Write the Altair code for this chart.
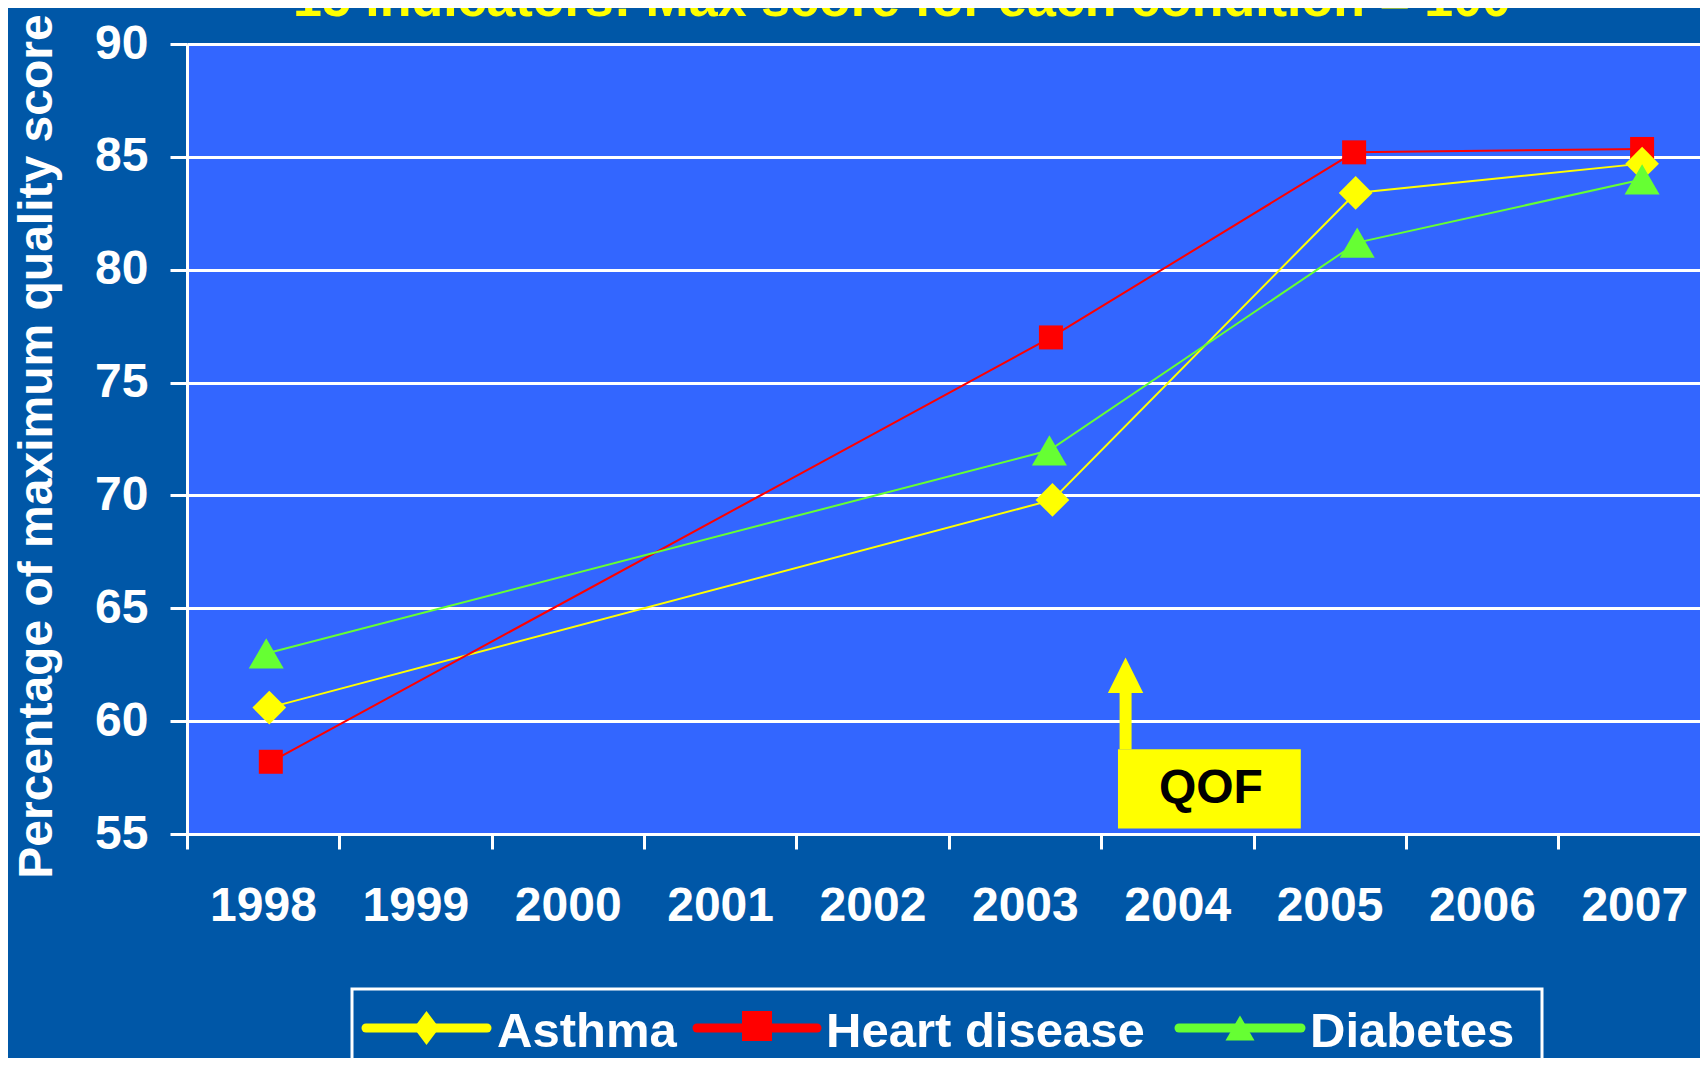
import altair as alt
import pandas as pd

# ---------------- data ----------------
series = ["Asthma", "Heart disease", "Diabetes"]
colors = ["#FFFF00", "#FF0000", "#66FF33"]

asthma_x = [1998.54, 2003.68, 2005.67, 2007.55]
asthma_y = [60.6, 69.8, 83.4, 84.7]
heart_x = [1998.55, 2003.67, 2005.66, 2007.55]
heart_y = [58.2, 77.0, 85.2, 85.35]
diabetes_x = [1998.52, 2003.66, 2005.68, 2007.55]
diabetes_y = [63.0, 72.0, 81.2, 84.0]

year_ticks = list(range(1998, 2008))
y_ticks = [55, 60, 65, 70, 75, 80, 85, 90]

title_text = "15 indicators: Max score for each condition = 100"
y_title = "Percentage of maximum quality score"
qof_label = "QOF"

# annotation (data units)
qof_box = {"x0": 2004.11, "x1": 2005.31, "y0": 55.24, "y1": 58.75}
qof_arrow = {"x": 2004.16, "shaft_top": 61.3, "head_c": 62.03}
qof_text_pos = {"x": 2004.72, "y": 57.0}

# ---------------- layout ----------------
W, H = 1513, 790
FONT = "Liberation Sans"
BG = "#0057A7"
PLOT_BG = "#3366FF"

df = pd.DataFrame({
    "series": ["Asthma"] * 4 + ["Heart disease"] * 4 + ["Diabetes"] * 4,
    "x": asthma_x + heart_x + diabetes_x,
    "y": asthma_y + heart_y + diabetes_y,
})

xscale = alt.Scale(domain=[1998, 2007.93], nice=False, zero=False)
yscale = alt.Scale(domain=[55, 90], nice=False, zero=False)
cscale = alt.Scale(domain=series, range=colors)

xaxis = alt.Axis(values=year_ticks, format="d", title=None, grid=False,
                 labelFont=FONT, labelFontSize=48, labelFontWeight="bold",
                 labelColor="white", labelOffset=76, labelPadding=33,
                 labelFlush=False, labelOverlap=False, labelBound=False,
                 tickColor="white", tickWidth=3, tickSize=15,
                 domainColor="white", domainWidth=3)
yaxis = alt.Axis(values=y_ticks, title=y_title, grid=True,
                 gridColor="white", gridWidth=3,
                 labelFont=FONT, labelFontSize=48, labelFontWeight="bold",
                 labelColor="white", labelPadding=22,
                 tickColor="white", tickWidth=3, tickSize=17,
                 domainColor="white", domainWidth=3,
                 titleFont=FONT, titleFontSize=48, titleFontWeight="bold",
                 titleColor="white", titleX=-136, titleY=402, titleAngle=270,
                 titleAlign="center", titleBaseline="alphabetic")

X = alt.X("x:Q", scale=xscale, axis=xaxis)
Y = alt.Y("y:Q", scale=yscale, axis=yaxis)

lines = alt.Chart(df).mark_line(strokeWidth=2).encode(
    x=X, y=Y,
    color=alt.Color("series:N", scale=cscale, legend=None),
    detail="series:N",
)

marker_shape = {"Asthma": "diamond", "Heart disease": "square", "Diabetes": "triangle-up"}
marker_size = {"Asthma": 1136, "Heart disease": 576, "Diabetes": 1225}
point_layers = []
for s in ["Heart disease", "Asthma", "Diabetes"]:
    point_layers.append(
        alt.Chart(df).transform_filter(alt.datum.series == s).mark_point(
            filled=True, opacity=1, shape=marker_shape[s], size=marker_size[s],
            color=colors[series.index(s)], strokeWidth=0
        ).encode(
            x=alt.X("x:Q", scale=xscale, axis=xaxis),
            y=alt.Y("y:Q", scale=yscale, axis=yaxis),
        )
    )

# QOF annotation
qdf = pd.DataFrame({
    "x0": [qof_box["x0"]], "x1": [qof_box["x1"]],
    "y0": [qof_box["y0"]], "y1": [qof_box["y1"]],
    "ax": [qof_arrow["x"]], "ay0": [qof_box["y1"]], "ay1": [qof_arrow["shaft_top"]],
    "hy": [qof_arrow["head_c"]],
    "tx": [qof_text_pos["x"]], "ty": [qof_text_pos["y"]], "label": [qof_label],
})
qbox = alt.Chart(qdf).mark_rect(color="#FFFF00").encode(
    x=alt.X("x0:Q", scale=xscale), x2="x1:Q",
    y=alt.Y("y0:Q", scale=yscale), y2="y1:Q")
qshaft = alt.Chart(qdf).mark_rule(color="#FFFF00", strokeWidth=12).encode(
    x=alt.X("ax:Q", scale=xscale),
    y=alt.Y("ay0:Q", scale=yscale), y2="ay1:Q")
qhead = alt.Chart(qdf).mark_point(
    filled=True, opacity=1, color="#FFFF00", strokeWidth=0,
    shape="M0,-1L1,1L-1,1Z", size=1253).encode(
    x=alt.X("ax:Q", scale=xscale), y=alt.Y("hy:Q", scale=yscale))
qtext = alt.Chart(qdf).mark_text(
    font=FONT, fontSize=48, fontWeight="bold", color="black",
    align="center", baseline="middle").encode(
    x=alt.X("tx:Q", scale=xscale), y=alt.Y("ty:Q", scale=yscale), text="label:N")

# title (cut off at the top, as in the reference)
tdf = pd.DataFrame({"t": [title_text]})
title = alt.Chart(tdf).mark_text(
    font=FONT, fontSize=52, fontWeight="bold", color="#FFFF00",
    align="center", baseline="alphabetic").encode(
    x=alt.value(715), y=alt.value(-28), text="t:N")

# manual legend
leg_line_x0 = [179, 510, 992]
leg_line_x1 = [300, 630, 1114]
leg_text_x = [310, 639, 1123]
leg_y = 984
ldf = pd.DataFrame({"series": series, "x1": leg_line_x0, "x2": leg_line_x1,
                    "tx": leg_text_x})
leg_box = alt.Chart(pd.DataFrame({"k": [0]})).mark_rect(
    fill=BG, stroke="white", strokeWidth=3).encode(
    x=alt.value(165), x2=alt.value(1355), y=alt.value(945), y2=alt.value(1100))
leg_lines = alt.Chart(ldf).mark_rule(strokeWidth=9, strokeCap="round").encode(
    x=alt.X("x1:Q", scale=None), x2="x2:Q", y=alt.value(leg_y),
    color=alt.Color("series:N", scale=cscale, legend=None))
leg_text = alt.Chart(ldf).mark_text(
    font=FONT, fontSize=49, fontWeight="bold", color="white",
    align="left", baseline="alphabetic").encode(
    x=alt.X("tx:Q", scale=None), y=alt.value(1003), text="series:N")
leg_shape = {"Asthma": "M0,-1L0.75,0L0,1L-0.75,0Z", "Heart disease": "square",
             "Diabetes": "triangle-up"}
leg_size = {"Asthma": 1156, "Heart disease": 900, "Diabetes": 841}
leg_points = []
for i, s in enumerate(series):
    mx = (leg_line_x0[i] + leg_line_x1[i]) / 2
    leg_points.append(
        alt.Chart(pd.DataFrame({"k": [0]})).mark_point(
            filled=True, opacity=1, strokeWidth=0, color=colors[i],
            shape=leg_shape[s], size=leg_size[s]).encode(
            x=alt.value(mx), y=alt.value(leg_y - (2 if s == "Heart disease" else 0)))
    )

chart = alt.layer(
    lines, *point_layers, qbox, qshaft, qhead, qtext, title,
    leg_box, leg_lines, *leg_points, leg_text
).properties(
    width=W, height=H,
    autosize=alt.AutoSizeParams(type="none"),
    padding={"left": 179, "top": 36, "right": 0, "bottom": 224},
).configure(background=BG).configure_view(fill=PLOT_BG, stroke=None)

chart.save("out.html", embed_options={"renderer": "svg", "actions": False})
